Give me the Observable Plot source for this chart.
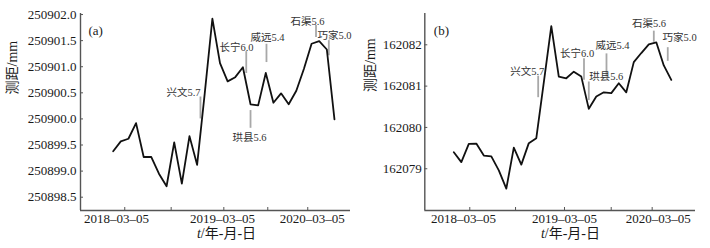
<!DOCTYPE html>
<html><head><meta charset="utf-8">
<script src="https://cdn.jsdelivr.net/npm/d3@7"></script>
<script src="https://cdn.jsdelivr.net/npm/@observablehq/plot@0.6"></script>
<style>
body{margin:0;background:#fff;}
#wrap{display:flex;width:710px;height:248px;}
#wrap svg, #wrap svg text, #wrap svg tspan {font-family: "Liberation Serif", "Times New Roman", "Noto Sans CJK SC", serif !important;}
</style></head><body><div id="wrap"></div>
<script>
// ---- data: panel (a) ----
const valuesA = [250899.38, 250899.57, 250899.62, 250899.92, 250899.27, 250899.27, 250898.95, 250898.71, 250899.55, 250898.76,
  250899.67, 250899.12, 250900.49, 250901.92, 250901.07, 250900.72, 250900.80, 250900.99, 250900.28, 250900.26,
  250900.88, 250900.31, 250900.49, 250900.28, 250900.54, 250900.96, 250901.44, 250901.49, 250901.33, 250899.99];
// ---- data: panel (b) ----
const valuesB = [162079.40, 162079.16, 162079.60, 162079.61, 162079.32, 162079.30, 162078.96, 162078.52, 162079.51, 162079.10,
  162079.62, 162079.74, 162081.09, 162082.45, 162081.23, 162081.19, 162081.35, 162081.23, 162080.45, 162080.75,
  162080.85, 162080.83, 162081.07, 162080.85, 162081.58, 162081.80, 162082.01, 162082.06, 162081.50, 162081.15];

const eventNames = ["兴文5.7", "长宁6.0", "珙县5.6", "威远5.4", "石渠5.6", "巧家5.0"];
const eventXA = [11.44, 17.44, 18.0, 20.09, 26.58, 28.26];
const lineTopA = [250900.42, 250901.29, 250900.16, 250901.43, 250901.79, 250901.50];
const lineBotA = [250900.00, 250900.87, 250899.82, 250901.08, 250901.56, 250901.21];
const labelXA = [9.21, 16.16, 17.86, 20.22, 25.47, 29.0];
const labelYA = [250900.51, 250901.37, 250899.64, 250901.55, 250901.87, 250901.60];

const eventXB = [11.25, 17.36, 18.0, 20.36, 26.67, 28.53];
const lineTopB = [162081.24, 162081.66, 162081.10, 162081.78, 162082.33, 162081.93];
const lineBotB = [162080.72, 162081.14, 162080.65, 162081.22, 162082.06, 162081.60];
const labelXB = [9.80, 16.45, 20.33, 21.16, 26.03, 30.12];
const labelYB = [162081.36, 162081.78, 162081.24, 162081.98, 162082.51, 162082.18];

const dateTickLabels = ["2018–03–05", "2019–03–05", "2020–03–05"];
const tickPosA = [1.52, 7.60, 14.50, 20.26, 25.50];
const tickPosB = [2.13, 8.23, 14.76, 20.99, 26.45];
const dateLabelPosA = [0.43, 14.32, 26.1];
const dateLabelPosB = [1.29, 14.76, 27.25];
const yTicksA = [250898.5, 250899.0, 250899.5, 250900.0, 250900.5, 250901.0, 250901.5, 250902.0];
const yTicksB = [162079, 162080, 162081, 162082];
const yTitle = "测距/mm";
const xTitle = "t/年-月-日";

const FONT = '"Liberation Serif", "Times New Roman", "Noto Sans CJK SC", serif';

function makeChart(cfg) {
  const data = cfg.values.map((v, i) => ({i, v}));
  const events = eventNames.map((name, k) => ({name, x: cfg.eventX[k], y1: cfg.lineTop[k], y2: cfg.lineBot[k], lx: cfg.labelX[k], ly: cfg.labelY[k]}));
  const dateLabels = dateTickLabels.map((t, k) => ({t, x: cfg.dateLabelPos[k]}));
  const svg = Plot.plot({
    width: 355, height: 248,
    marginLeft: cfg.marginLeft, marginRight: cfg.marginRight, marginTop: 13, marginBottom: 38,
    style: {fontFamily: FONT, fontSize: "13px", color: "#1a1a1a", background: "#fff", overflow: "visible"},
    x: {domain: cfg.xDomain},
    y: {domain: cfg.yDomain},
    marks: [
      Plot.ruleX([cfg.xDomain[0]], {stroke: "#555", strokeWidth: 1.4}),
      Plot.ruleY([cfg.yDomain[0]], {stroke: "#555", strokeWidth: 1.4}),
      Plot.axisX({ticks: cfg.tickPos, tickFormat: () => "", tickSize: -3, tickPadding: 6, label: null, stroke: "#555"}),
      Plot.text(dateLabels, {x: "x", text: "t", frameAnchor: "bottom", lineAnchor: "top", dy: 3, fontSize: 13}),
      Plot.axisY({ticks: cfg.yTicks, tickFormat: cfg.yFormat, tickSize: -3, tickPadding: cfg.yPad, label: null, stroke: "#555"}),
      Plot.ruleX(events, {x: "x", y1: "y1", y2: "y2", stroke: "#a8a8a8", strokeWidth: 1.8}),
      Plot.line(data, {x: "i", y: "v", stroke: "#111", strokeWidth: 1.8}),
      Plot.text(events, {x: "lx", y: "ly", text: "name", fontSize: 10.5, fill: "#333"}),
      Plot.text([cfg.panel], {frameAnchor: "top-left", dx: cfg.panelDx, dy: 12, textAnchor: "start", fontSize: 13}),
      Plot.text([yTitle], {frameAnchor: "left", rotate: -90, dx: cfg.yTitleDx, dy: cfg.yTitleDy, fontSize: 14}),
      Plot.text([xTitle], {frameAnchor: "bottom", dx: cfg.xTitleDx, dy: 27, fontSize: 14})
    ]
  });
  // drop the empty x-axis tick texts (ticks only, labels drawn separately)
  d3.select(svg).selectAll("text").filter(function() { return this.textContent === ""; }).remove();
  d3.select(svg).selectAll("text").filter(function() { return this.textContent === xTitle; })
    .each(function() {
      const t = d3.select(this);
      t.text(null);
      t.append("tspan").attr("font-style", "italic").text(xTitle.slice(0, 1));
      t.append("tspan").text(xTitle.slice(1));
    });
  return svg;
}

const wrap = document.getElementById("wrap");
wrap.append(makeChart({
  values: valuesA, eventX: eventXA, lineTop: lineTopA, lineBot: lineBotA, labelX: labelXA, labelY: labelYA,
  tickPos: tickPosA, dateLabelPos: dateLabelPosA, yTicks: yTicksA, yFormat: d => d.toFixed(1), yPad: 7,
  marginLeft: 80, marginRight: 5, xDomain: [-4.28, 31.1], yDomain: [250898.245, 250902.02],
  panel: "(a)", panelDx: 8, yTitleDx: -68, yTitleDy: -17.5, xTitleDx: 11
}));
wrap.append(makeChart({
  values: valuesB, eventX: eventXB, lineTop: lineTopB, lineBot: lineBotB, labelX: labelXB, labelY: labelYB,
  tickPos: tickPosB, dateLabelPos: dateLabelPosB, yTicks: yTicksB, yFormat: d => String(d), yPad: 6,
  marginLeft: 69.3, marginRight: 15, xDomain: [-3.87, 32.23], yDomain: [162077.99, 162082.757],
  panel: "(b)", panelDx: 9, yTitleDx: -54.3, yTitleDy: -20, xTitleDx: 10.3
}));
</script></body></html>
